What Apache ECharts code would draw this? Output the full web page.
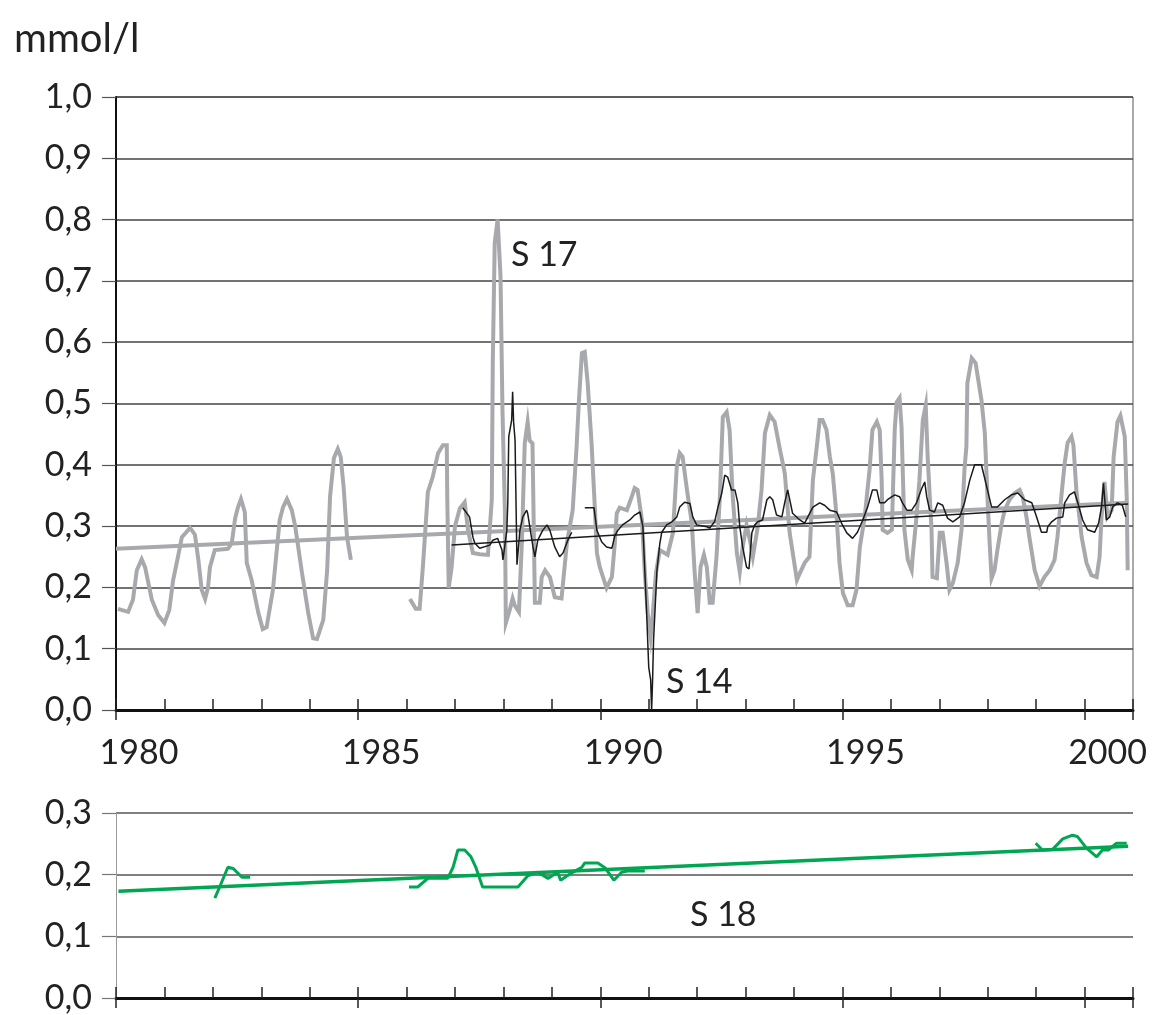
<!DOCTYPE html>
<html>
<head>
<meta charset="utf-8">
<script src="https://cdn.jsdelivr.net/npm/echarts@6/dist/echarts.min.js"></script>
<style>
html,body{margin:0;padding:0;background:#fff;}
#chart{width:1155px;height:1015px;}
</style>
</head>
<body>
<div id="chart"></div>
<script>
// ---- data (year, mmol/l) ----
const unitLabel = 'mmol/l';
const topYTicks = [0, 0.1, 0.2, 0.3, 0.4, 0.5, 0.6, 0.7, 0.8, 0.9, 1.0];
const bottomYTicks = [0, 0.1, 0.2, 0.3];
const xLabelYears = [1980, 1985, 1990, 1995, 2000];

const s17 = [
[1980.04,0.165],[1980.25,0.160],[1980.35,0.180],[1980.43,0.228],[1980.53,0.246],[1980.60,0.233],
[1980.74,0.180],[1980.87,0.155],[1981.00,0.142],[1981.10,0.163],[1981.18,0.212],[1981.28,0.250],
[1981.36,0.282],[1981.53,0.297],[1981.63,0.286],[1981.70,0.245],[1981.77,0.196],[1981.84,0.181],
[1981.90,0.200],[1981.94,0.233],[1982.04,0.261],[1982.31,0.263],[1982.39,0.272],[1982.46,0.313],
[1982.52,0.331],[1982.58,0.344],[1982.66,0.323],[1982.70,0.240],[1982.80,0.212],[1982.94,0.158],
[1983.03,0.132],[1983.11,0.135],[1983.24,0.196],[1983.38,0.310],[1983.45,0.331],[1983.53,0.344],
[1983.63,0.326],[1983.70,0.300],[1983.84,0.224],[1983.97,0.158],[1984.07,0.117],[1984.15,0.116],
[1984.28,0.147],[1984.36,0.228],[1984.42,0.348],[1984.50,0.411],[1984.58,0.426],[1984.64,0.413],
[1984.70,0.364],[1984.77,0.282],[1984.85,0.245],
[1985.50,null],
[1986.07,0.181],[1986.19,0.165],[1986.27,0.165],[1986.34,0.237],[1986.44,0.356],[1986.54,0.380],
[1986.65,0.419],[1986.75,0.432],[1986.83,0.432],[1986.84,0.348],[1986.87,0.199],[1986.93,0.233],
[1987.00,0.300],[1987.10,0.329],[1987.20,0.339],[1987.27,0.293],[1987.37,0.256],[1987.51,0.254],
[1987.68,0.253],[1987.76,0.343],[1987.78,0.566],[1987.82,0.762],[1987.88,0.800],[1987.94,0.707],
[1987.98,0.490],[1988.03,0.326],[1988.05,0.142],[1988.13,0.163],[1988.19,0.182],[1988.23,0.171],
[1988.32,0.160],[1988.38,0.272],[1988.44,0.435],[1988.50,0.470],[1988.54,0.440],[1988.60,0.435],
[1988.65,0.175],[1988.75,0.175],[1988.79,0.217],[1988.86,0.228],[1988.96,0.217],[1989.06,0.184],
[1989.20,0.182],[1989.31,0.272],[1989.43,0.326],[1989.51,0.429],[1989.56,0.506],[1989.62,0.582],
[1989.68,0.584],[1989.74,0.533],[1989.82,0.435],[1989.89,0.326],[1989.93,0.256],[1989.99,0.233],
[1990.13,0.199],[1990.24,0.217],[1990.30,0.272],[1990.34,0.321],[1990.40,0.330],[1990.55,0.326],
[1990.65,0.348],[1990.71,0.362],[1990.77,0.359],[1990.86,0.310],[1990.92,0.223],[1990.98,0.158],
[1991.04,0.119],[1991.08,0.152],[1991.15,0.224],[1991.23,0.261],[1991.39,0.253],[1991.50,0.289],
[1991.58,0.397],[1991.64,0.419],[1991.70,0.413],[1991.79,0.359],[1991.89,0.305],[1991.95,0.223],
[1992.01,0.158],[1992.07,0.233],[1992.14,0.253],[1992.20,0.233],[1992.26,0.175],[1992.32,0.175],
[1992.40,0.250],[1992.47,0.348],[1992.53,0.478],[1992.61,0.486],[1992.67,0.457],[1992.73,0.354],
[1992.82,0.256],[1992.88,0.225],[1992.94,0.266],[1993.02,0.302],[1993.09,0.277],[1993.15,0.250],
[1993.25,0.298],[1993.33,0.359],[1993.40,0.452],[1993.50,0.481],[1993.60,0.470],[1993.70,0.429],
[1993.81,0.386],[1993.91,0.289],[1994.06,0.212],[1994.12,0.223],[1994.22,0.240],[1994.32,0.250],
[1994.39,0.375],[1994.47,0.429],[1994.53,0.473],[1994.59,0.473],[1994.67,0.457],[1994.74,0.413],
[1994.80,0.386],[1994.88,0.315],[1994.94,0.240],[1995.01,0.191],[1995.11,0.171],[1995.21,0.171],
[1995.29,0.196],[1995.36,0.266],[1995.46,0.315],[1995.56,0.392],[1995.62,0.457],[1995.71,0.470],
[1995.77,0.457],[1995.81,0.375],[1995.83,0.294],[1995.93,0.289],[1996.02,0.294],[1996.08,0.457],
[1996.12,0.502],[1996.18,0.509],[1996.22,0.462],[1996.28,0.294],[1996.35,0.245],[1996.43,0.228],
[1996.45,0.250],[1996.53,0.315],[1996.59,0.375],[1996.66,0.473],[1996.72,0.497],[1996.76,0.413],
[1996.84,0.294],[1996.86,0.217],[1996.95,0.215],[1997.01,0.289],[1997.07,0.289],[1997.15,0.240],
[1997.21,0.196],[1997.28,0.207],[1997.38,0.240],[1997.46,0.294],[1997.52,0.392],[1997.56,0.430],
[1997.58,0.533],[1997.67,0.574],[1997.75,0.566],[1997.87,0.506],[1997.94,0.452],[1998.00,0.338],
[1998.04,0.272],[1998.08,0.215],[1998.14,0.228],[1998.20,0.261],[1998.29,0.305],[1998.35,0.326],
[1998.45,0.343],[1998.56,0.354],[1998.66,0.359],[1998.72,0.348],[1998.80,0.315],[1998.86,0.282],
[1998.97,0.228],[1999.07,0.202],[1999.17,0.217],[1999.28,0.228],[1999.38,0.245],[1999.44,0.282],
[1999.52,0.348],[1999.59,0.403],[1999.65,0.436],[1999.73,0.446],[1999.77,0.432],[1999.83,0.359],
[1999.94,0.282],[2000.04,0.240],[2000.14,0.220],[2000.25,0.217],[2000.31,0.250],[2000.35,0.315],
[2000.41,0.372],[2000.45,0.338],[2000.47,0.315],[2000.56,0.326],[2000.60,0.413],[2000.68,0.470],
[2000.74,0.480],[2000.83,0.446],[2000.87,0.348],[2000.89,0.228]
];

const s14 = [
[1987.16,0.330],[1987.30,0.315],[1987.37,0.282],[1987.41,0.272],[1987.51,0.264],[1987.72,0.269],
[1987.78,0.277],[1987.88,0.280],[1987.97,0.261],[1987.99,0.245],[1988.07,0.293],[1988.09,0.338],
[1988.11,0.446],[1988.17,0.473],[1988.19,0.519],[1988.21,0.470],[1988.24,0.440],[1988.28,0.237],
[1988.34,0.293],[1988.40,0.315],[1988.48,0.326],[1988.50,0.321],[1988.61,0.266],[1988.65,0.250],
[1988.71,0.277],[1988.81,0.293],[1988.90,0.302],[1988.96,0.293],[1989.06,0.266],[1989.16,0.250],
[1989.23,0.256],[1989.33,0.277],[1989.41,0.290],
[1989.55,null],
[1989.68,0.330],[1989.82,0.330],[1989.87,0.330],[1989.93,0.293],[1990.03,0.274],[1990.13,0.266],
[1990.24,0.264],[1990.30,0.284],[1990.36,0.293],[1990.46,0.302],[1990.61,0.310],[1990.71,0.318],
[1990.82,0.323],[1990.88,0.299],[1990.96,0.152],[1991.00,0.070],[1991.04,0.049],[1991.06,0.000],
[1991.08,0.049],[1991.10,0.114],[1991.17,0.228],[1991.23,0.272],[1991.27,0.290],[1991.37,0.302],
[1991.48,0.307],[1991.58,0.315],[1991.64,0.331],[1991.74,0.339],[1991.85,0.337],[1991.91,0.315],
[1991.99,0.302],[1992.20,0.299],[1992.26,0.297],[1992.36,0.307],[1992.43,0.331],[1992.51,0.354],
[1992.57,0.383],[1992.63,0.380],[1992.71,0.359],[1992.78,0.359],[1992.84,0.338],[1992.88,0.299],
[1992.94,0.266],[1993.02,0.233],[1993.07,0.230],[1993.13,0.289],[1993.19,0.302],[1993.25,0.307],
[1993.35,0.310],[1993.44,0.343],[1993.50,0.348],[1993.56,0.343],[1993.64,0.318],[1993.75,0.315],
[1993.81,0.339],[1993.87,0.359],[1993.97,0.321],[1994.12,0.310],[1994.22,0.305],[1994.39,0.331],
[1994.53,0.338],[1994.63,0.334],[1994.74,0.326],[1994.88,0.323],[1994.98,0.305],[1995.09,0.289],
[1995.21,0.280],[1995.31,0.290],[1995.42,0.310],[1995.52,0.331],[1995.62,0.359],[1995.71,0.359],
[1995.77,0.338],[1995.87,0.338],[1995.93,0.343],[1996.08,0.351],[1996.18,0.348],[1996.24,0.338],
[1996.33,0.326],[1996.43,0.326],[1996.53,0.338],[1996.64,0.362],[1996.70,0.372],[1996.74,0.348],
[1996.80,0.326],[1996.90,0.323],[1996.97,0.338],[1997.07,0.334],[1997.17,0.313],[1997.28,0.307],
[1997.42,0.315],[1997.52,0.338],[1997.63,0.375],[1997.73,0.400],[1997.87,0.400],[1997.98,0.364],
[1998.08,0.331],[1998.20,0.331],[1998.35,0.343],[1998.49,0.351],[1998.62,0.354],[1998.76,0.343],
[1998.91,0.338],[1999.01,0.315],[1999.11,0.290],[1999.22,0.290],[1999.24,0.299],[1999.32,0.307],
[1999.42,0.313],[1999.55,0.315],[1999.59,0.338],[1999.69,0.351],[1999.79,0.356],[1999.86,0.338],
[1999.96,0.310],[2000.06,0.294],[2000.21,0.290],[2000.29,0.305],[2000.35,0.331],[2000.39,0.370],
[2000.45,0.310],[2000.52,0.315],[2000.58,0.331],[2000.68,0.338],[2000.78,0.334],[2000.85,0.315]
];

const s18 = [
[1982.04,0.162],[1982.14,0.180],[1982.31,0.212],[1982.42,0.210],[1982.60,0.196],[1982.77,0.196],
[1983.50,null],
[1986.05,0.180],[1986.23,0.180],[1986.44,0.194],[1986.85,0.194],[1986.96,0.212],[1987.06,0.240],
[1987.20,0.240],[1987.33,0.229],[1987.43,0.212],[1987.57,0.180],[1988.30,0.180],[1988.50,0.198],
[1988.71,0.204],[1988.92,0.194],[1989.12,0.204],[1989.18,0.191],[1989.41,0.203],[1989.62,0.212],
[1989.68,0.219],[1989.95,0.219],[1990.10,0.211],[1990.28,0.191],[1990.44,0.204],[1990.56,0.206],
[1990.92,0.206],
[1995.00,null],
[1998.99,0.251],[1999.13,0.240],[1999.34,0.241],[1999.55,0.258],[1999.75,0.264],[1999.85,0.262],
[2000.04,0.243],[2000.25,0.229],[2000.37,0.240],[2000.49,0.240],[2000.66,0.251],[2000.87,0.251]
];

const s17Trend = [[1980.0,0.263],[2000.9,0.338]];
const s14Trend = [[1986.93,0.269],[2000.9,0.336]];
const s18Trend = [[1980.05,0.173],[2000.9,0.246]];

const seriesLabels = ['S 17', 'S 14', 'S 18'];

// ---- chart ----
const FONT = 'Lato';
const toPts = arr => arr.map(p => [p[0], p[1] === null ? '-' : p[1]]);
const fmtY = v => v.toFixed(1).replace('.', ',');

const gray = '#a7a9ac';
const black = '#1a1a1a';
const green = '#00a651';

function xAxisPair(gridIndex, showLabels) {
  return [
    {
      type: 'value', gridIndex, min: 1980, max: 2001, interval: 1, position: 'bottom',
      axisLine: {show: true, onZero: false, lineStyle: {color: '#111', width: 3}},
      axisTick: {show: true, inside: true, length: 11, lineStyle: {color: '#222', width: 1.5}},
      splitLine: {show: false},
      axisLabel: {
        show: showLabels, margin: 26, color: '#222', fontFamily: FONT, fontSize: 34,
        formatter: v => xLabelYears.indexOf(Math.round(v)) >= 0 ? '{a|' + Math.round(v) + '}' : '',
        rich: {a: {fontFamily: FONT, fontSize: 34, color: '#222', padding: [0, 0, 0, 46]}}
      }
    },
    {
      type: 'value', gridIndex, min: 1980, max: 2001, interval: 5, position: 'bottom',
      axisLine: {show: false, onZero: false},
      axisTick: {show: true, inside: false, length: 10, lineStyle: {color: '#222', width: 1.5}},
      splitLine: {show: false},
      axisLabel: {show: false}
    }
  ];
}

const chart = echarts.init(document.getElementById('chart'), null, {renderer: 'canvas'});
chart.setOption({
  backgroundColor: '#ffffff',
  animation: false,
  title: {
    text: unitLabel, left: 9, top: 14,
    textStyle: {fontFamily: FONT, fontSize: 40, fontWeight: 'normal', color: '#222'}
  },
  grid: [
    {left: 116, right: 22, top: 97, height: 613, show: true, borderColor: '#555', borderWidth: 1, backgroundColor: 'transparent'},
    {left: 116, right: 22, top: 813, height: 185}
  ],
  xAxis: [...xAxisPair(0, true), ...xAxisPair(1, false)],
  yAxis: [
    {
      type: 'value', gridIndex: 0, min: topYTicks[0], max: topYTicks[topYTicks.length - 1], interval: 0.1,
      axisLine: {show: true, lineStyle: {color: '#111', width: 2}},
      axisTick: {show: true, inside: false, length: 14, lineStyle: {color: '#555', width: 1.2}},
      splitLine: {show: true, lineStyle: {color: '#444', width: 1.5}},
      axisLabel: {margin: 24, color: '#222', fontFamily: FONT, fontSize: 34, formatter: fmtY}
    },
    {
      type: 'value', gridIndex: 1, min: bottomYTicks[0], max: bottomYTicks[bottomYTicks.length - 1], interval: 0.1,
      axisLine: {show: true, lineStyle: {color: '#999', width: 1}},
      axisTick: {show: true, inside: false, length: 14, lineStyle: {color: '#777', width: 1.2}},
      splitLine: {show: true, lineStyle: {color: '#555', width: 1.5}},
      axisLabel: {margin: 24, color: '#222', fontFamily: FONT, fontSize: 34, formatter: fmtY}
    }
  ],
  series: [
    {name: 'S 17', type: 'line', xAxisIndex: 0, yAxisIndex: 0, data: toPts(s17), showSymbol: false,
     connectNulls: false, lineStyle: {color: gray, width: 4, join: 'miter'}, z: 2},
    {name: 'S 17 Trend', type: 'line', xAxisIndex: 0, yAxisIndex: 0, data: s17Trend, showSymbol: false,
     lineStyle: {color: gray, width: 4}, z: 3},
    {name: 'S 14', type: 'line', xAxisIndex: 0, yAxisIndex: 0, data: toPts(s14), showSymbol: false,
     connectNulls: false, lineStyle: {color: black, width: 1.5}, z: 4},
    {name: 'S 14 Trend', type: 'line', xAxisIndex: 0, yAxisIndex: 0, data: s14Trend, showSymbol: false,
     lineStyle: {color: black, width: 1.5}, z: 4},
    {name: 'S 18', type: 'line', xAxisIndex: 2, yAxisIndex: 1, data: toPts(s18), showSymbol: false,
     connectNulls: false, lineStyle: {color: green, width: 3}, z: 3},
    {name: 'S 18 Trend', type: 'line', xAxisIndex: 2, yAxisIndex: 1, data: s18Trend, showSymbol: false,
     lineStyle: {color: green, width: 3.5}, z: 3}
  ],
  graphic: [
    {type: 'text', left: 511, top: 238, style: {text: seriesLabels[0], font: '34px ' + FONT, fill: '#222'}},
    {type: 'text', left: 666, top: 665, style: {text: seriesLabels[1], font: '34px ' + FONT, fill: '#222'}},
    {type: 'text', left: 690, top: 898, style: {text: seriesLabels[2], font: '34px ' + FONT, fill: '#222'}}
  ]
});
</script>
</body>
</html>
